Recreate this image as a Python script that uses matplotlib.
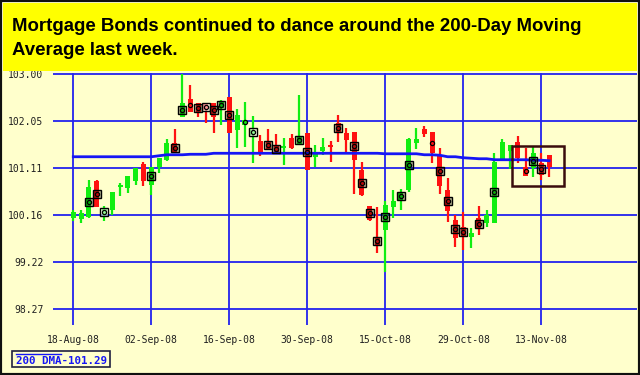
import matplotlib
matplotlib.use("Agg")
import matplotlib.pyplot as plt
from matplotlib.patches import Rectangle
import numpy as np

# ---------------- data ----------------
date_labels = ["18-Aug-08", "02-Sep-08", "16-Sep-08", "30-Sep-08", "15-Oct-08", "29-Oct-08", "13-Nov-08"]
date_label_idx = [0, 10, 20, 30, 40, 50, 60]
y_labels = ["98.27", "99.22", "100.16", "101.11", "102.05", "103.00"]

opens = [100.10, 100.08, 100.13, 100.85, 100.17, 100.27, 100.73, 100.71, 100.85, 101.19,
         100.77, 101.14, 101.27, 101.62, 102.15, 102.50, 102.42, 102.42, 102.43, 102.32,
         102.55, 101.88, 101.98, 101.78, 101.66, 101.66, 101.58, 101.51, 101.71, 101.60,
         101.81, 101.34, 101.46, 101.58, 102.01, 101.81, 101.84, 101.07, 100.35, 99.70,
         99.87, 100.32, 100.44, 100.67, 101.62, 101.89, 101.84, 101.36, 100.67, 100.07,
         99.93, 99.73, 100.10, 100.00, 100.01, 101.27, 101.46, 101.64, 101.14, 101.11,
         101.21, 101.38]
highs = [100.26, 100.26, 100.87, 100.87, 100.35, 100.64, 100.81, 100.95, 101.12, 101.23,
         101.14, 101.31, 101.69, 101.89, 103.00, 102.78, 102.42, 102.42, 102.43, 102.48,
         102.55, 102.30, 102.45, 102.17, 101.78, 101.89, 101.79, 101.71, 101.80, 102.58,
         101.81, 101.58, 101.71, 101.66, 102.18, 101.91, 101.84, 101.24, 100.35, 100.33,
         100.44, 100.68, 100.70, 101.71, 101.91, 101.95, 101.84, 101.51, 100.91, 100.17,
         100.23, 99.90, 100.34, 100.27, 101.42, 101.69, 101.58, 101.76, 101.51, 101.56,
         101.42, 101.38]
lows = [100.04, 100.01, 100.10, 100.33, 100.05, 100.17, 100.54, 100.62, 100.77, 100.76,
        100.57, 101.01, 101.26, 101.41, 102.15, 102.25, 102.15, 102.01, 101.81, 101.98,
        101.81, 101.51, 101.54, 101.21, 101.36, 101.48, 101.41, 101.17, 101.50, 101.58,
        101.07, 101.14, 101.38, 101.24, 101.64, 101.44, 100.60, 100.54, 100.04, 99.40,
        99.03, 100.10, 100.27, 100.64, 101.49, 101.74, 101.21, 100.60, 100.03, 99.53,
        99.46, 99.50, 99.77, 99.93, 100.01, 101.27, 101.09, 101.21, 100.95, 100.94,
        100.87, 100.94]
closes = [100.22, 100.21, 100.73, 100.33, 100.30, 100.64, 100.77, 100.95, 101.11, 100.85,
          101.14, 101.31, 101.62, 101.42, 102.42, 102.25, 102.22, 102.28, 102.15, 102.45,
          101.81, 102.18, 102.08, 101.88, 101.41, 101.49, 101.43, 101.56, 101.51, 101.74,
          101.07, 101.44, 101.54, 101.53, 101.84, 101.68, 101.27, 100.57, 100.07, 99.57,
          100.37, 100.44, 100.64, 101.69, 101.69, 101.79, 101.41, 100.75, 100.24, 99.70,
          99.73, 99.80, 99.89, 100.17, 101.24, 101.64, 101.58, 101.31, 100.95, 101.41,
          100.97, 101.13]
# 0 = none, 1 = dark square + dot, 2 = dot only, 3 = light square + dot
signals = [0, 0, 1, 1, 3, 0, 0, 0, 0, 0,
           1, 0, 0, 1, 1, 2, 1, 3, 1, 1,
           1, 0, 2, 3, 0, 1, 1, 0, 0, 1,
           1, 0, 0, 0, 1, 0, 1, 1, 1, 1,
           1, 0, 1, 1, 0, 0, 2, 1, 1, 1,
           1, 0, 1, 0, 1, 0, 0, 0, 2, 1,
           1, 0]
dma200 = [101.34] * 11 + [101.36] + [101.38] * 3 + [101.39] * 3 + [101.41] * 22 + \
         [101.40] * 5 + [101.38, 101.38, 101.37, 101.34, 101.34, 101.32, 101.31, 101.30, 101.30] + \
         [101.28] * 5 + [101.27, 101.27, 101.26]
dma_label = "200 DMA-101.29"
title_lines = ["Mortgage Bonds continued to dance around the 200-Day Moving", "Average last week."]

# ---------------- figure ----------------
W, H = 640, 375
fig = plt.figure(figsize=(W / 100, H / 100), dpi=100)
fig.patch.set_facecolor("#FFFFCC")

# outer frame
fig.patches.append(Rectangle((0, 0), 1, 1, transform=fig.transFigure, fill=False,
                             edgecolor="#101010", linewidth=3, zorder=0))
# yellow title box
fig.patches.append(Rectangle((3 / W, 1 - 71 / H), (637 - 3) / W, 68 / H, transform=fig.transFigure,
                             facecolor="#FFFF00", edgecolor="none", zorder=1))
fig.text(12 / W, 1 - 31 / H, title_lines[0], fontsize=13.4, fontweight="bold",
         family="Liberation Sans", color="black", va="baseline", ha="left")
fig.text(12 / W, 1 - 55 / H, title_lines[1], fontsize=13.4, fontweight="bold",
         family="Liberation Sans", color="black", va="baseline", ha="left")

ax = fig.add_axes([53 / W, (H - 325) / H, (637 - 53) / W, (325 - 73) / H])
ax.set_facecolor("#FFFFCC")
for s in ax.spines.values():
    s.set_visible(False)

yt = [float(v) for v in y_labels]
ax.set_ylim(97.953, 103.026)
ax.set_xlim(-2.6, 72.27)
ax.set_yticks(yt)
ax.set_yticklabels(y_labels)
ax.set_xticks(date_label_idx)
ax.set_xticklabels(date_labels)
ax.tick_params(length=0, labelsize=7, labelcolor="#202020")
ax.tick_params(axis="y", pad=7)
ax.tick_params(axis="x", pad=7)
for lab in ax.get_xticklabels() + ax.get_yticklabels():
    lab.set_family("DejaVu Sans Mono")

grid_c = "#2222EE"
for v in yt:
    ax.axhline(v, color=grid_c, lw=1.3, zorder=1)
for v in date_label_idx:
    ax.axvline(v, color=grid_c, lw=1.3, zorder=1)

green = "#11EE11"
red = "#FF1111"
x = np.arange(len(opens))
o = np.array(opens); c = np.array(closes); hi = np.array(highs); lo = np.array(lows)
cols = [green if cc >= oo else red for oo, cc in zip(o, c)]
ax.vlines(x, lo, hi, colors=cols, lw=1.6, zorder=3)
bottoms = np.minimum(o, c)
heights = np.maximum(np.abs(c - o), 0.04)
ax.bar(x, heights, bottom=bottoms, width=0.66, color=cols, zorder=3, linewidth=0)

ax.plot(x, dma200, color="#1515F5", lw=2.0, zorder=4)

mid = (o + c) / 2
for i, sgl in enumerate(signals):
    if sgl in (1, 3):
        fc = (0, 0, 0, 0.28) if sgl == 1 else (1, 1, 1, 0.55)
        ax.plot(x[i], mid[i], marker="s", ms=6.2, mfc=fc, mec="black", mew=1.0, zorder=5)
    if sgl:
        ax.plot(x[i], mid[i], marker="o", ms=3.0, mfc="none", mec="black", mew=0.9, zorder=6)

# highlight box on the last candles
ax.add_patch(Rectangle((56.3, 100.75), 6.6, 0.81, fill=False, edgecolor="#3A0C0C", lw=1.8, zorder=7))

# 200 DMA legend box
fig.patches.append(Rectangle((12 / W, 1 - 367 / H), 98 / W, 16 / H, transform=fig.transFigure,
                             facecolor="#FFFFCC", edgecolor="#202040", lw=1.2, zorder=2))
fig.lines.append(plt.Line2D([16 / W, 61 / W], [1 - 353.5 / H, 1 - 353.5 / H], transform=fig.transFigure,
                            color="#1515F5", lw=1.0, zorder=3))
fig.text(16 / W, 1 - 364.5 / H, dma_label, fontsize=7.8, fontweight="bold", family="DejaVu Sans Mono",
         color="#1515F5", va="baseline", ha="left", zorder=3)

fig.savefig("out.png", dpi=100, facecolor=fig.get_facecolor())
